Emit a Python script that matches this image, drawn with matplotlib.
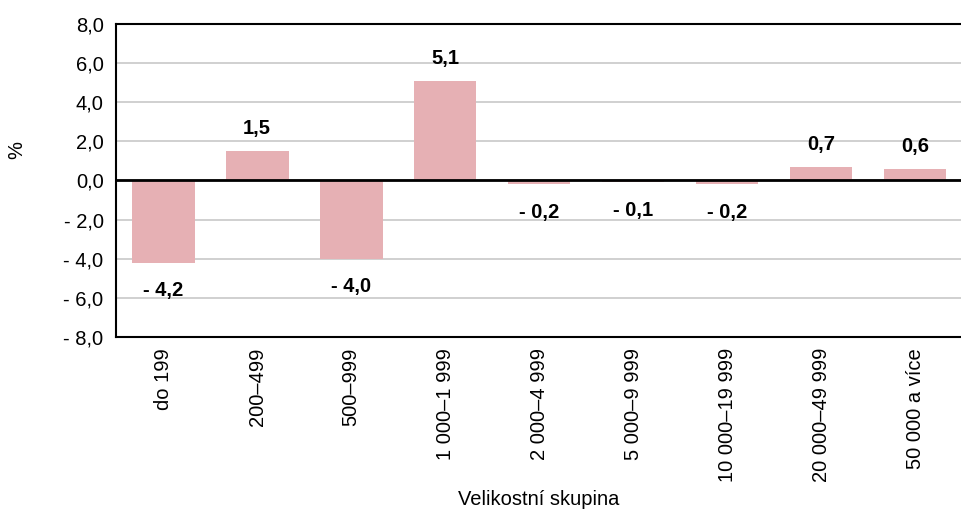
import matplotlib.pyplot as plt
import numpy as np

plt.rcParams['font.family'] = ['Liberation Sans', 'DejaVu Sans']

# data
categories = ['do 199', '200–499', '500–999', '1 000–1 999', '2 000–4 999',
              '5 000–9 999', '10 000–19 999', '20 000–49 999', '50 000 a více']
values = [-4.2, 1.5, -4.0, 5.1, -0.2, -0.1, -0.2, 0.7, 0.6]
yticks = [-8, -6, -4, -2, 0, 2, 4, 6, 8]

def fmt(v):
    s = ('%.1f' % abs(v)).replace('.', ',')
    return '- ' + s if v < 0 else s

fig = plt.figure(figsize=(9.62, 5.16), dpi=100)
ax = fig.add_axes([0.1206, 0.3469, 0.8794, 0.6066])

x = np.arange(len(categories))
ax.bar(x, values, width=0.67, color='#e6b0b4', zorder=2)

for xi, v in zip(x, values):
    if v >= 0:
        ax.annotate(fmt(v), (xi, v), xytext=(0, 16), textcoords='offset points',
                    ha='center', va='center', fontsize=14.5, fontweight='bold')
    else:
        ax.annotate(fmt(v), (xi, v), xytext=(0, -20), textcoords='offset points',
                    ha='center', va='center', fontsize=14.5, fontweight='bold')

ax.set_xlim(-0.5, len(categories) - 0.5)
ax.set_ylim(-8, 8)
ax.set_yticks(yticks)
ax.set_yticklabels([fmt(t) for t in yticks], fontsize=14.5)
ax.set_xticks(x)
ax.set_xticklabels(categories, rotation=90, fontsize=14.5)
ax.tick_params(axis='y', length=0, pad=9)
ax.tick_params(axis='x', length=0, pad=8)

ax.yaxis.grid(True, color='#c8c8c8', linewidth=1.2, zorder=0)
ax.set_axisbelow(True)
ax.axhline(0, color='black', linewidth=2, zorder=3)

for side in ['left', 'top', 'bottom']:
    ax.spines[side].set_linewidth(1.5)
    ax.spines[side].set_color('black')
ax.spines['right'].set_visible(False)

fig.text(0.017, 0.71, '%', rotation=90, ha='center', va='center', fontsize=14.5)
fig.text(0.56, 0.032, 'Velikostní skupina', ha='center', va='center', fontsize=14.5)

fig.savefig('out.png', dpi=100)
